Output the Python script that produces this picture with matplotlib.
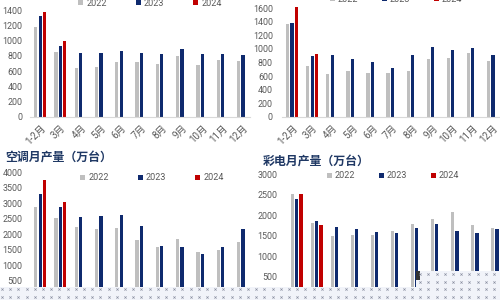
import numpy as np
import matplotlib.pyplot as plt
from matplotlib.patches import Rectangle

plt.rcParams['font.family'] = ['Roboto', 'Noto Sans CJK SC', 'DejaVu Sans']

months = ['1-2月', '3月', '4月', '5月', '6月', '7月', '8月', '9月', '10月', '11月', '12月']
years = ['2022', '2023', '2024']

# top left panel
tl_2022 = [1181, 857, 639, 660, 722, 722, 691, 796, 682, 752, 735]
tl_2023 = [1321, 932, 840, 840, 870, 840, 827, 884, 818, 818, 809]
tl_2024 = [1374, 989]

# top right panel
tr_2022 = [1359, 743, 636, 675, 650, 650, 670, 856, 870, 939, 822]
tr_2023 = [1384, 890, 905, 856, 812, 719, 905, 1022, 988, 1012, 905]
tr_2024 = [1614, 919]

# 空调月产量 (万台)
ac_2022 = [2894, 2539, 2249, 2174, 2206, 1820, 1605, 1841, 1433, 1508, 1755]
ac_2023 = [3313, 2894, 2561, 2582, 2615, 2282, 1637, 1605, 1379, 1584, 2164]
ac_2024 = [3753, 3055]

# 彩电月产量 (万台)
tv_2022 = [2528, 1819, 1493, 1510, 1526, 1624, 1779, 1900, 2080, 1762, 1697]
tv_2023 = [2406, 1852, 1705, 1673, 1592, 1567, 1681, 1787, 1608, 1567, 1665]
tv_2024 = [2512, 1762]

c22, c23, c24 = '#BFBFBF', '#0F2A6E', '#C00000'
tick_c = '#595959'
title_c = '#1F3864'

W, H = 500, 300
fig = plt.figure(figsize=(5, 3), dpi=100)


def px_axes(l, t, r, b):
    return fig.add_axes([l / W, 1 - b / H, (r - l) / W, (b - t) / H])


def draw(ax, d22, d23, d24, ylim, yticks, xlim, pad, show_x):
    x = np.arange(len(months))
    w, off = 0.16, 0.22
    b1 = ax.bar(x - off, d22, w, color=c22)
    b2 = ax.bar(x, d23, w, color=c23)
    b3 = ax.bar(x[:len(d24)] + off, d24, w, color=c24)
    ax.set_xlim(*xlim)
    ax.set_ylim(*ylim)
    ax.set_yticks(yticks)
    ax.tick_params(axis='y', length=0, pad=pad, labelsize=6.4, labelcolor=tick_c)
    for s in ['top', 'right', 'left']:
        ax.spines[s].set_visible(False)
    ax.spines['bottom'].set_color('#D9D9D9')
    ax.spines['bottom'].set_linewidth(0.8)
    ax.patch.set_alpha(0)
    if show_x:
        ax.set_xticks(x)
        ax.set_xticklabels(months, rotation=45, ha='right', va='top',
                           rotation_mode='anchor', fontsize=7, color=tick_c)
        ax.tick_params(axis='x', length=0, pad=4)
    else:
        ax.set_xticks([])
    return [b1, b2, b3]


def add_legend(ax, handles, cx, cy, spacing):
    leg = ax.legend(handles, years, loc='center', bbox_to_anchor=(cx / W, 1 - cy / H),
                    bbox_transform=fig.transFigure, ncol=3, frameon=False,
                    fontsize=6.5, handlelength=0.55, handleheight=0.55,
                    handletextpad=0.35, columnspacing=spacing, borderpad=0)
    for t in leg.get_texts():
        t.set_color(tick_c)


ax1 = px_axes(30, 0, 250, 117)
h = draw(ax1, tl_2022, tl_2023, tl_2024, (0, 1531), range(0, 1401, 200), (-0.5, 10.35), 5.5, True)
add_legend(ax1, h, 150, 3, 3.2)

ax2 = px_axes(282, 0, 500, 117)
h = draw(ax2, tr_2022, tr_2023, tr_2024, (0, 1718), range(0, 1601, 200), (-0.5, 10.35), 6.5, True)
add_legend(ax2, h, 396, -1, 2.6)

ax3 = px_axes(30, 170, 250, 290)
h = draw(ax3, ac_2022, ac_2023, ac_2024, (210, 4074), range(500, 4001, 500), (-0.5, 10.35), 5.5, False)
ax3.spines['bottom'].set_visible(False)
add_legend(ax3, h, 152, 178, 3.2)

ax4 = px_axes(287, 170, 500, 290)
h = draw(ax4, tv_2022, tv_2023, tv_2024, (175, 3105), range(500, 3001, 500), (-0.48, 10.15), 7, False)
ax4.spines['bottom'].set_visible(False)
add_legend(ax4, h, 393, 176, 2.6)

fig.text(5 / W, 1 - 158 / H, '空调月产量（万台）', fontsize=8.6, fontweight='bold',
         color=title_c, family=['Noto Sans CJK SC'], va='center', ha='left')
fig.text(263 / W, 1 - 162 / H, '彩电月产量（万台）', fontsize=8.6, fontweight='bold',
         color=title_c, family=['Noto Sans CJK SC'], va='center', ha='left')

# dotted strip at the bottom of the picture
ov = fig.add_axes([0, 0, 1, 1], zorder=10)
ov.set_xlim(0, W)
ov.set_ylim(H, 0)
ov.axis('off')
ov.patch.set_alpha(0)
ov.add_patch(Rectangle((0, 287), W, 13, facecolor='#F1F3F9', edgecolor='none'))
ov.add_patch(Rectangle((416, 271), 84, 16, facecolor='#F1F3F9', edgecolor='none'))
gx = np.arange(2, W, 8.2)
for gy in [288.5, 296.8]:
    ov.plot(gx, np.full(len(gx), gy), 'x', ms=1.6, mew=0.5, color='#8A8FA0', ls='none')
gx2 = gx[gx > 418]
for gy in [273.5, 281.5]:
    ov.plot(gx2, np.full(len(gx2), gy), 'x', ms=1.6, mew=0.5, color='#8A8FA0', ls='none')
ov.add_patch(Rectangle((416, 271), 4, 9, facecolor='#333333', edgecolor='none'))

fig.savefig('out.png', dpi=100)
